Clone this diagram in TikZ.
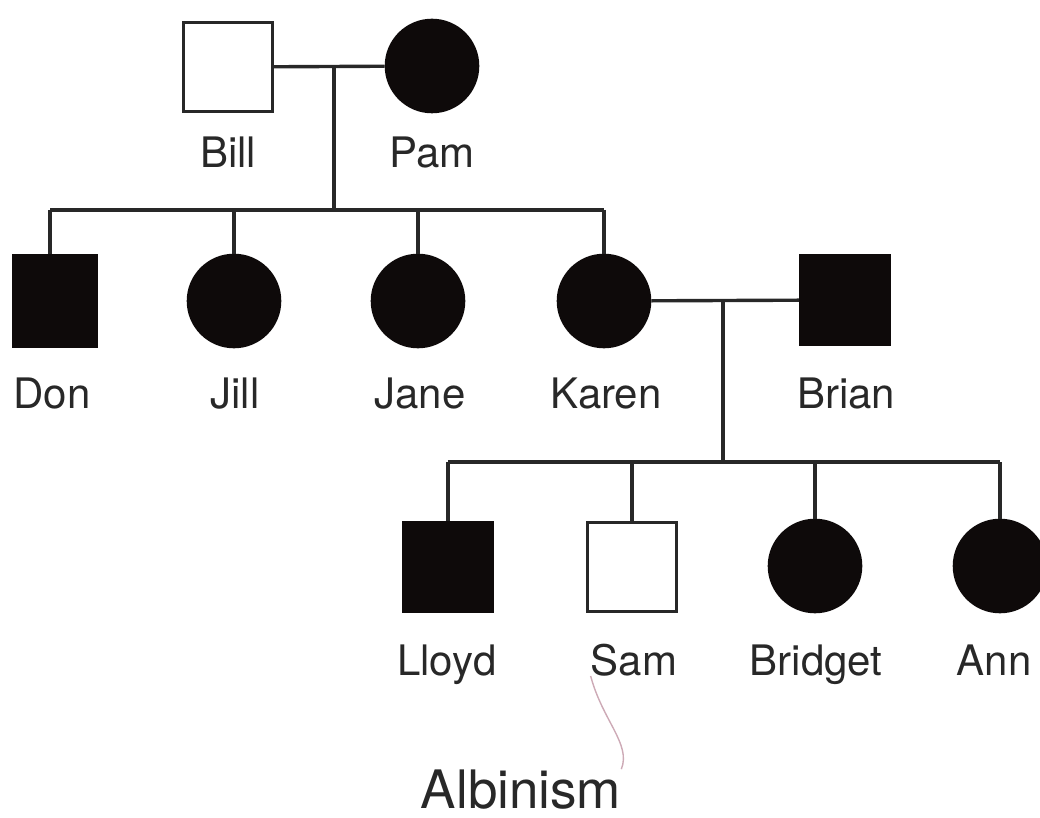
\documentclass[tikz,border=0pt]{standalone}
\usepackage{fontspec}
\setmainfont{TeX Gyre Heros}
\usepackage{xcolor}
\usepackage{tikz}
\usetikzlibrary{positioning}
\definecolor{linegray}{RGB}{40,40,40}
\definecolor{inkblack}{RGB}{14,10,10}
\definecolor{notepink}{RGB}{205,170,182}

\begin{document}
\begin{tikzpicture}[
    x=1pt, y=-1pt,
    male/.style={rectangle, draw=linegray, line width=2.6pt, minimum size=89pt, inner sep=0pt},
    female/.style={circle, draw=linegray, line width=2.6pt, minimum size=92pt, inner sep=0pt},
    affected/.style={fill=inkblack, draw=inkblack},
    lbl/.style={anchor=base, inner sep=0pt, text=linegray, font=\fontsize{42}{48}\selectfont},
    link/.style={draw=linegray, line width=3.4pt}
]
\useasboundingbox (0,0) rectangle (1040,818);

% Generation I
\node[male] (bill) at (228,67) {};
\node[female, affected] (pam) at (432,66) {};
\node[lbl] (billlbl) at (228,168) {Bill};
\node[lbl] (pamlbl) at (432,168) {Pam};

% Generation II
\node[male, affected, minimum width=84pt, minimum height=92pt] (don) at (55,301) {};
\node[female, affected] (jill) at (234,301) {};
\node[female, affected] (jane) at (418,301) {};
\node[female, affected] (karen) at (604,301) {};
\node[male, affected] (brian) at (845,300) {};
\node[lbl] (donlbl) at (52,408) {Don};
\node[lbl] (jilllbl) at (235,408) {Jill};
\node[lbl] (janelbl) at (420,408) {Jane};
\node[lbl] (karenlbl) at (606,408) {Karen};
\node[lbl] (brianlbl) at (846,408) {Brian};

% Generation III
\node[male, affected] (lloyd) at (448,567) {};
\node[male] (sam) at (632,567) {};
\node[female, affected] (bridget) at (815,566) {};
\node[female, affected] (ann) at (1000,566) {};
\node[lbl] (lloydlbl) at (447,675) {Lloyd};
\node[lbl] (samlbl) at (634,675) {Sam};
\node[lbl] (bridgetlbl) at (816,675) {Bridget};
\node[lbl] (annlbl) at (994,675) {Ann};

\node[lbl, font=\fontsize{53}{60}\selectfont] (albinism) at (521,808) {Albinism};

% Marriages and descent
\coordinate (billpam) at (334,67);
\coordinate (sibsone) at (334,210);
\draw[link] (bill) -- (pam);
\draw[link] (billpam) -- (sibsone);
\draw[link] ([xshift=-5pt]don.north |- sibsone) -- (karen.north |- sibsone);
\draw[link] ([xshift=-5pt]don.north |- sibsone) -- ([xshift=-5pt]don.north);
\foreach \kid in {jill,jane,karen}
    \draw[link] (\kid.north |- sibsone) -- (\kid.north);

\coordinate (karenbrian) at (723,301);
\coordinate (sibstwo) at (723,462);
\draw[link] (karen) -- (brian);
\draw[link] (karenbrian) -- (sibstwo);
\draw[link] (lloyd.north |- sibstwo) -- (ann.north |- sibstwo);
\foreach \kid in {lloyd,sam,bridget,ann}
    \draw[link] (\kid.north |- sibstwo) -- (\kid.north);

% Note
\draw[notepink, line width=1.4pt] (samlbl.south west) .. controls +(12,45) and +(10,-25) .. (albinism.north east);
\end{tikzpicture}
\end{document}
